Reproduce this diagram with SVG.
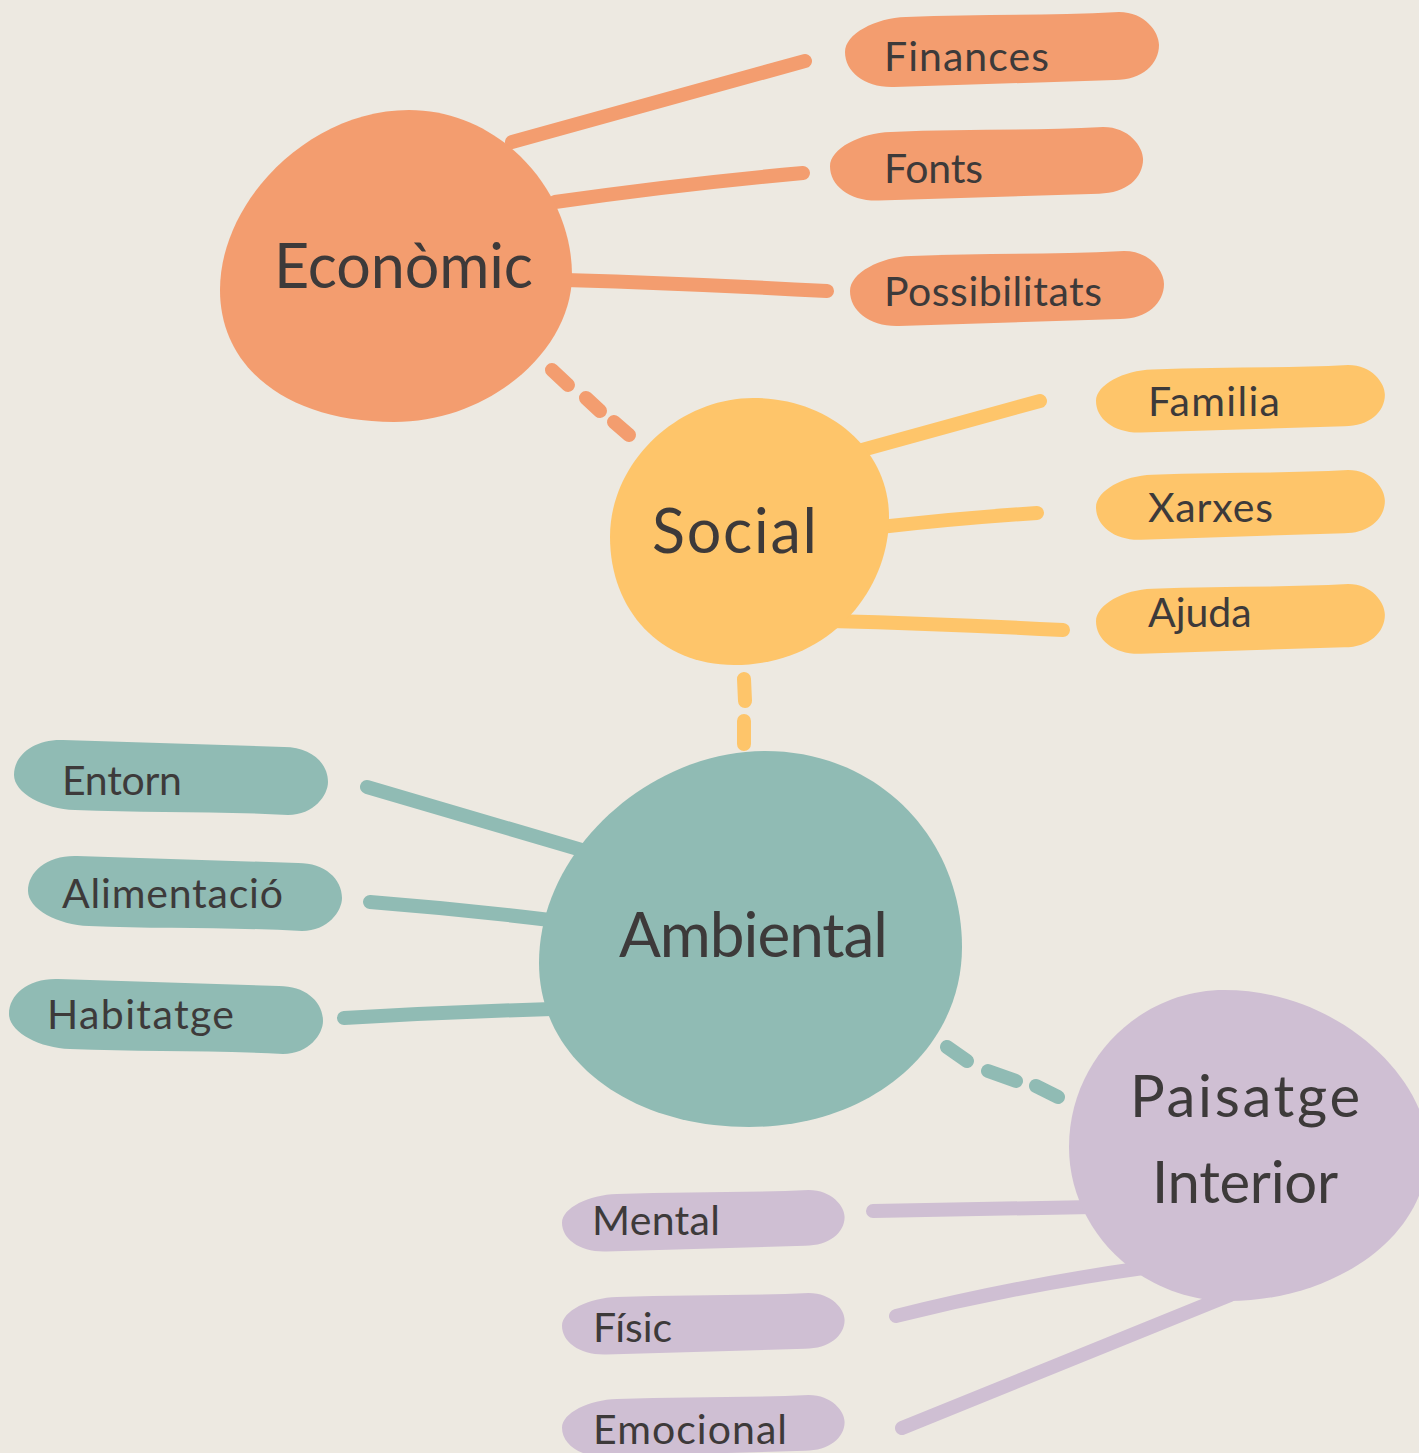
<svg xmlns="http://www.w3.org/2000/svg" xmlns:xlink="http://www.w3.org/1999/xlink" width="1419" height="1453" viewBox="0 0 1419 1453">
<style>
.t{font-family:Lato,"Noto Sans","Liberation Sans",sans-serif;fill:#3d3a3a;font-weight:400}
.big{font-size:61px}
.sm{font-size:41px}
.c{fill:none;stroke-width:14;stroke-linecap:round}
.o{fill:#f39d6f}.os{stroke:#f39d6f}
.y{fill:#fec56a}.ys{stroke:#fec56a}
.g{fill:#90bbb4}.gs{stroke:#90bbb4}
.p{fill:#cfbfd3}.ps{stroke:#cfbfd3}
</style>
<defs>
<path id="pill" d="M61,5 C130,2 200,4 274,0 C300,0 314,20 314,33 C314,52 297,68 270,68 L49,75 C20,76 0,60 0,40 C0,22 30,6 61,5 Z"/>
</defs>
<rect width="1419" height="1453" fill="#ede9e1"/>
<g id="connectors">
<path class="c os" d="M512,142 L805,61"/>
<path class="c os" d="M555,202 Q680,184 803,173"/>
<path class="c os" d="M565,280 Q700,284 827,291"/>
<path class="c os" d="M552,370 L568,385 M586,398 L600,411 M614,422 L629,435"/>
<path class="c ys" d="M862,450 L1040,401"/>
<path class="c ys" d="M880,527 Q960,518 1037,513"/>
<path class="c ys" d="M830,621 Q950,624 1063,630"/>
<path class="c ys" d="M744,679 L745,701 M744,721 L744,744"/>
<path class="c gs" d="M367,787 L585,851"/>
<path class="c gs" d="M370,902 Q460,909 550,920"/>
<path class="c gs" d="M344,1018 Q450,1012 552,1009"/>
<path class="c gs" d="M947,1047 L967,1061 M988,1071 L1016,1081 M1036,1086 L1058,1097"/>
<path class="c ps" d="M873,1211 L1093,1207"/>
<path class="c ps" d="M896,1316 Q1020,1285 1150,1267"/>
<path class="c ps" d="M902,1428 L1230,1295"/>
</g>
<g id="economic">
<path class="o" d="M409,110 C500,110 572,190 572,275 C572,350 490,422 394,422 C290,422 220,370 220,290 C220,200 310,110 409,110 Z"/>
<text class="t big" x="274" y="288" textLength="259">Econòmic</text>
</g>
<g id="finances"><use xlink:href="#pill" class="o" transform="translate(845,12)"/><text class="t sm" x="884" y="71" textLength="165">Finances</text></g>
<g id="fonts"><use xlink:href="#pill" class="o" transform="translate(830,127) scale(0.997,0.98)"/><text class="t sm" x="884" y="183" textLength="99">Fonts</text></g>
<g id="possibilitats"><use xlink:href="#pill" class="o" transform="translate(850,251)"/><text class="t sm" x="884" y="306" textLength="218">Possibilitats</text></g>
<g id="social">
<path class="y" d="M753,398 C830,398 889,450 889,517 C889,590 830,665 734,665 C660,665 610,610 610,537 C610,460 680,398 753,398 Z"/>
<text class="t big" x="652" y="553" textLength="165">Social</text>
</g>
<g id="familia"><use xlink:href="#pill" class="y" transform="translate(1096,365) scale(0.92,0.9)"/><text class="t sm" x="1148" y="416" textLength="132">Familia</text></g>
<g id="xarxes"><use xlink:href="#pill" class="y" transform="translate(1096,470) scale(0.92,0.93)"/><text class="t sm" x="1148" y="522" textLength="125">Xarxes</text></g>
<g id="ajuda"><use xlink:href="#pill" class="y" transform="translate(1096,584) scale(0.92,0.93)"/><text class="t sm" x="1148" y="627">Ajuda</text></g>
<g id="ambiental">
<path class="g" d="M765,751 C880,751 962,840 962,947 C962,1050 870,1127 749,1127 C630,1127 539,1060 539,963 C539,850 650,751 765,751 Z"/>
<text class="t" font-size="62" x="619" y="957" textLength="269">Ambiental</text>
</g>
<g id="entorn"><use xlink:href="#pill" class="g" transform="translate(14,815) scale(1,-1)"/><text class="t sm" x="62" y="795" textLength="120">Entorn</text></g>
<g id="alimentacio"><use xlink:href="#pill" class="g" transform="translate(28,931) scale(1,-1)"/><text class="t sm" x="62" y="908" textLength="221">Alimentació</text></g>
<g id="habitatge"><use xlink:href="#pill" class="g" transform="translate(9,1054) scale(1,-1)"/><text class="t sm" x="47" y="1029" textLength="187">Habitatge</text></g>
<g id="paisatge">
<path class="p" d="M1224,990 C1340,990 1428,1080 1428,1150 C1428,1240 1330,1301 1229,1301 C1140,1301 1069,1230 1069,1147 C1069,1060 1140,990 1224,990 Z"/>
<text class="t" font-size="58" x="1130" y="1117" textLength="230">Paisatge</text>
<text class="t" font-size="58" x="1152" y="1203" textLength="186">Interior</text>
</g>
<g id="mental"><use xlink:href="#pill" class="p" transform="translate(562,1190) scale(0.9,0.82)"/><text class="t sm" x="592" y="1235" textLength="128">Mental</text></g>
<g id="fisic"><use xlink:href="#pill" class="p" transform="translate(562,1293) scale(0.9,0.82)"/><text class="t sm" x="593" y="1342" textLength="79">Físic</text></g>
<g id="emocional"><use xlink:href="#pill" class="p" transform="translate(562,1395) scale(0.9,0.82)"/><text class="t sm" x="593" y="1444" textLength="194">Emocional</text></g>
</svg>
